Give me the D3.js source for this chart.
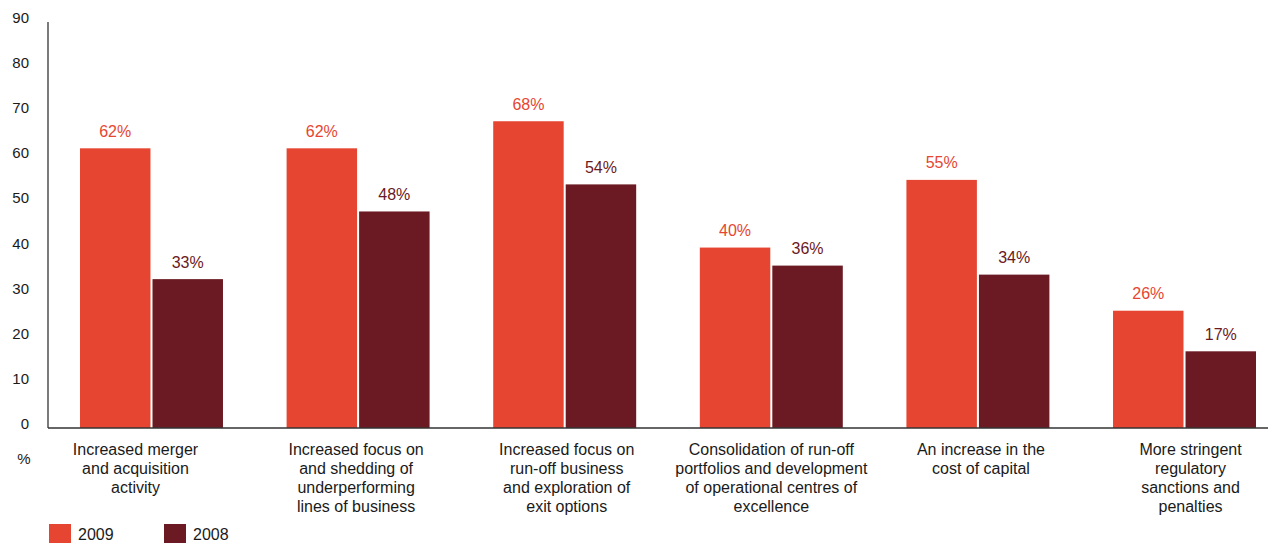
<!DOCTYPE html>
<html>
<head>
<meta charset="utf-8">
<script src="https://cdn.jsdelivr.net/npm/d3@7"></script>
<style>
  html, body { margin: 0; padding: 0; background: #fff; }
  svg { display: block; font-family: "Liberation Sans", Arial, Helvetica, sans-serif; }
</style>
</head>
<body>
<svg id="chart" width="1268" height="543"></svg>
<script>
// Survey categories (each label split into its display lines)
const categories = [
  ["Increased merger", "and acquisition", "activity"],
  ["Increased focus on", "and shedding of", "underperforming", "lines of business"],
  ["Increased focus on", "run-off business", "and exploration of", "exit options"],
  ["Consolidation of run-off", "portfolios and development", "of operational centres of", "excellence"],
  ["An increase in the", "cost of capital"],
  ["More stringent", "regulatory", "sanctions and", "penalties"]
];
const series = ["2009", "2008"];
const values2009 = [62, 62, 68, 40, 55, 26];
const values2008 = [33, 48, 54, 36, 34, 17];
const yTicks = [0, 10, 20, 30, 40, 50, 60, 70, 80, 90];

const colors = { "2009": "#e64631", "2008": "#6b1922" };
const labelShift = [-16, -2, 2, 0, 3, 6];

const svg = d3.select("#chart");
const baseY = 428, topY = 22, axisX = 48;

const y = d3.scaleLinear().domain([0, 90]).range([baseY, topY]);
const keys = categories.map((c, i) => i);
const x0 = d3.scaleBand().domain(keys).range([80, 1256]).paddingInner(0.308).paddingOuter(0);
const x1 = d3.scaleBand().domain(series).range([0, x0.bandwidth()]).paddingInner(0.028);

const rows = keys.map(i => ({ i, vals: [
  { s: "2009", v: values2009[i] },
  { s: "2008", v: values2008[i] }
]}));

// Bars
const g = svg.append("g");
const grp = g.selectAll("g.grp").data(rows).join("g")
  .attr("class", "grp")
  .attr("transform", d => `translate(${x0(d.i)},0)`);

grp.selectAll("rect").data(d => d.vals).join("rect")
  .attr("x", d => x1(d.s))
  .attr("y", d => y(d.v))
  .attr("width", x1.bandwidth())
  .attr("height", d => y(0) - y(d.v))
  .attr("fill", d => colors[d.s]);

// Value labels
grp.selectAll("text.val").data(d => d.vals).join("text")
  .attr("class", "val")
  .attr("x", d => x1(d.s) + x1.bandwidth() / 2)
  .attr("y", d => y(d.v) - 11.5)
  .attr("text-anchor", "middle")
  .attr("font-size", 16)
  .attr("fill", d => colors[d.s])
  .text(d => d.v + "%");

// Axes lines
svg.append("line")
  .attr("x1", axisX).attr("x2", axisX)
  .attr("y1", topY).attr("y2", baseY)
  .attr("stroke", "#222").attr("stroke-width", 1.2);
svg.append("line")
  .attr("x1", axisX).attr("x2", 1268)
  .attr("y1", baseY).attr("y2", baseY)
  .attr("stroke", "#333").attr("stroke-width", 1.5);

// Y tick labels
svg.append("g").selectAll("text").data(yTicks).join("text")
  .attr("x", 29)
  .attr("y", d => y(d) + 1)
  .attr("text-anchor", "end")
  .attr("font-size", 15)
  .attr("fill", "#1a1a1a")
  .text(d => d);

svg.append("text")
  .attr("x", 24).attr("y", 464)
  .attr("text-anchor", "middle")
  .attr("font-size", 15)
  .attr("fill", "#1a1a1a")
  .text("%");

// Category labels
const cat = svg.append("g").selectAll("text").data(rows).join("text")
  .attr("text-anchor", "middle")
  .attr("font-size", 16)
  .attr("fill", "#1a1a1a")
  .attr("transform", d => `translate(${x0(d.i) + x0.bandwidth() / 2 + labelShift[d.i]},454.5)`);
cat.selectAll("tspan").data(d => categories[d.i]).join("tspan")
  .attr("x", 0)
  .attr("dy", (d, j) => j === 0 ? 0 : 19)
  .text(d => d);

// Legend
const leg = svg.append("g").selectAll("g").data(series).join("g")
  .attr("transform", (d, i) => `translate(${49 + i * 115},524)`);
leg.append("rect").attr("width", 22).attr("height", 19).attr("fill", d => colors[d]);
leg.append("text").attr("x", 29).attr("y", 16)
  .attr("font-size", 16).attr("fill", "#1a1a1a").text(d => d);
</script>
</body>
</html>
